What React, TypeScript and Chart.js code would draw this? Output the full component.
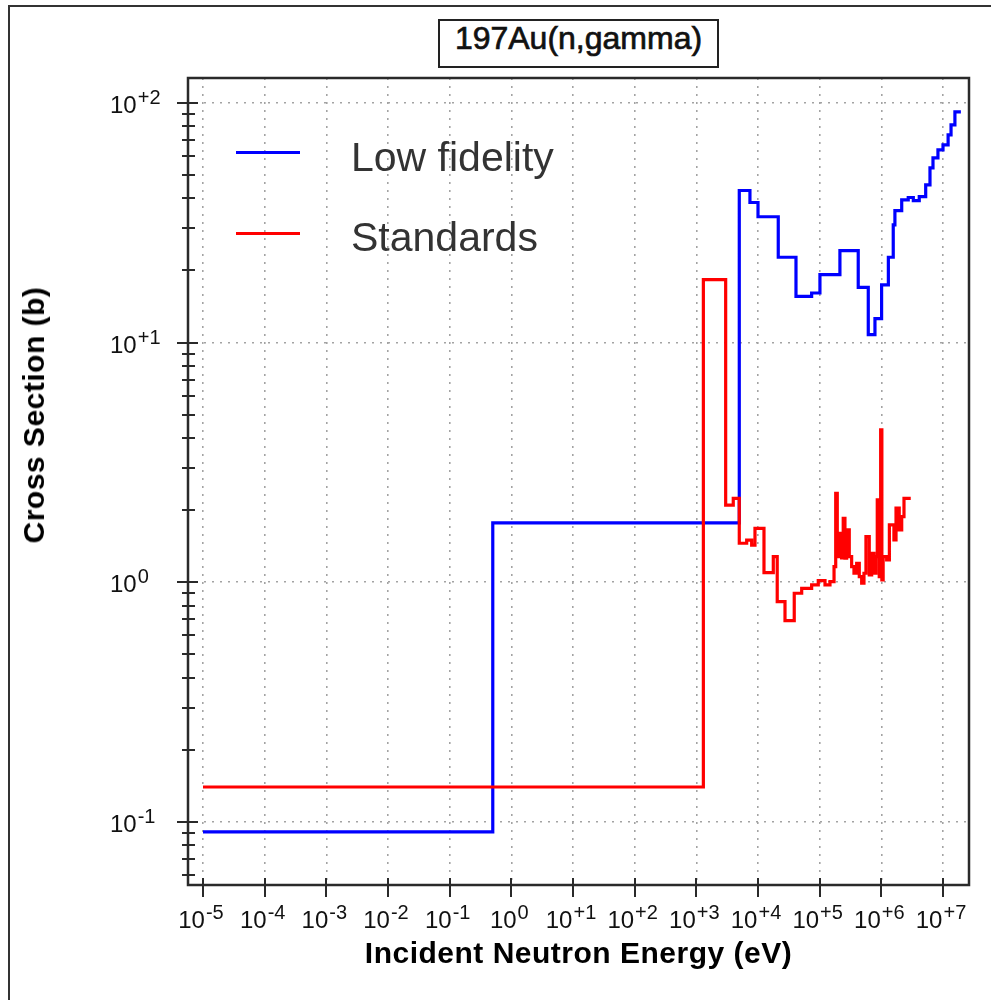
import React, { useEffect, useRef } from 'react';
import { Chart, registerables } from 'chart.js';

Chart.register(...registerables);

// ---------- data ----------
const chartTitle = '197Au(n,gamma)';
const xAxisTitle = 'Incident Neutron Energy (eV)';
const yAxisTitle = 'Cross Section (b)';
const seriesNames = ['Low fidelity', 'Standards'];

// Low fidelity (histogram: value holds from energy[i] to energy[i+1])
const lowFidelityEnergy = [
  1e-5, 0.5, 4970, 7400, 1.0e4, 2.13e4, 4.13e4, 7.41e4, 1.01e5, 2.13e5,
  4.22e5, 6.14e5, 7.88e5, 1.01e6, 1.3e6, 1.56e6, 1.66e6, 2.14e6, 2.73e6, 3.3e6,
  4.12e6, 5.24e6, 6.15e6, 6.88e6, 8.28e6, 1.0e7, 1.21e7, 1.35e7, 1.56e7, 1.95e7,
];
const lowFidelityXS = [
  0.091, 1.77, 43.1, 38.4, 33.5, 22.7, 15.6, 16.1, 19.2, 24.2,
  17.0, 10.8, 12.6, 17.4, 22.7, 31.0, 35.5, 39.4, 40.3, 39.1,
  40.6, 45.5, 53.6, 59.0, 63.7, 66.8, 73.5, 81.0, 91.7, 91.7,
];

// Standards
const standardsEnergy = [
  1e-5, 1300, 2990, 3970, 4970, 6550, 7890, 8930, 1.25e4, 1.77e4,
  2.05e4, 2.74e4, 3.87e4, 5.11e4, 7.41e4, 9.49e4, 1.22e5, 1.47e5, 1.71e5, 1.82e5,
  1.93e5, 2.13e5, 2.27e5, 2.41e5, 2.57e5, 2.74e5, 3.02e5, 3.3e5, 3.6e5, 3.98e5,
  4.39e5, 4.8e5, 5.23e5, 5.63e5, 6.37e5, 6.97e5, 7.59e5, 8.18e5, 8.59e5, 9.25e5,
  9.75e5, 1.02e6, 1.07e6, 1.22e6, 1.35e6, 1.6e6, 1.73e6, 1.95e6, 2.14e6, 2.33e6,
  3.0e6,
];
const standardsXS = [
  0.14, 18.3, 2.1, 2.24, 1.455, 1.5, 1.43, 1.68, 1.097, 1.279,
  0.83, 0.692, 0.9, 0.944, 0.975, 1.016, 0.975, 1.006, 1.162, 2.35,
  1.279, 1.6, 1.263, 1.85, 1.262, 1.653, 1.279, 1.162, 1.091, 1.2,
  1.056, 0.991, 1.091, 1.55, 1.073, 1.322, 1.091, 1.279, 2.21, 1.056,
  4.32, 1.023, 1.279, 1.24, 1.735, 1.502, 2.04, 1.653, 1.879, 2.24,
  2.24,
];

// Tick values and labels (decades)
const xTickValues = [1e-5, 1e-4, 1e-3, 1e-2, 1e-1, 1, 1e1, 1e2, 1e3, 1e4, 1e5, 1e6, 1e7];
const xTickExponents = ['-5', '-4', '-3', '-2', '-1', '0', '+1', '+2', '+3', '+4', '+5', '+6', '+7'];
const yTickValues = [1e-1, 1, 1e1, 1e2];
const yTickExponents = ['-1', '0', '+1', '+2'];
const yMinorMultipliers = [2, 3, 4, 5, 6, 7, 8, 9];

// ---------- styles / ranges ----------
const X_MIN = 5.71e-6;
const X_MAX = 2.64e7;
const Y_MIN = 0.0546;
const Y_MAX = 127;
const FONT = '"Liberation Sans", Arial, Helvetica, sans-serif';
const AXIS_COLOR = '#2a2a2a';
const GRID_COLOR = '#a3a3a3';

const isDecade = (v: number) => {
  const l = Math.log10(v);
  return Math.abs(l - Math.round(l)) < 1e-6;
};

function drawPower(ctx: CanvasRenderingContext2D, exp: string, x: number, baseline: number, align: 'center' | 'left') {
  const baseFont = `24px ${FONT}`;
  const supFont = `20px ${FONT}`;
  ctx.font = baseFont;
  const wb = ctx.measureText('10').width;
  ctx.font = supFont;
  const we = ctx.measureText(exp).width;
  const gap = 1;
  const total = wb + gap + we;
  const x0 = align === 'center' ? x - total / 2 : x;
  ctx.textAlign = 'left';
  ctx.textBaseline = 'alphabetic';
  ctx.font = baseFont;
  ctx.fillText('10', x0, baseline);
  ctx.font = supFont;
  ctx.fillText(exp, x0 + wb + gap, baseline - 9);
}

const decorPlugin = {
  id: 'decor',
  afterDraw(chart: any) {
    const { ctx, chartArea: a, scales } = chart;
    const xs = scales.x;
    const ys = scales.y;
    ctx.save();
    // frame
    ctx.strokeStyle = AXIS_COLOR;
    ctx.lineWidth = 2.5;
    ctx.strokeRect(a.left, a.top, a.right - a.left, a.bottom - a.top);
    // y ticks
    ctx.lineWidth = 2;
    for (const t of ys.ticks) {
      const py = Math.round(ys.getPixelForValue(t.value));
      const major = isDecade(t.value);
      ctx.beginPath();
      ctx.moveTo(a.left - (major ? 11 : 6), py);
      ctx.lineTo(a.left + (major ? 10 : 7), py);
      ctx.stroke();
    }
    // x ticks
    for (const t of xs.ticks) {
      const px = Math.round(xs.getPixelForValue(t.value));
      ctx.beginPath();
      ctx.moveTo(px, a.bottom - 7);
      ctx.lineTo(px, a.bottom + 12);
      ctx.stroke();
    }
    // labels
    ctx.fillStyle = '#111';
    xTickValues.forEach((v, i) => {
      const px = xs.getPixelForValue(v);
      drawPower(ctx, xTickExponents[i], px - 2, a.bottom + 43, 'center');
    });
    yTickValues.forEach((v, i) => {
      const py = ys.getPixelForValue(v);
      drawPower(ctx, yTickExponents[i], a.left - 78, py + 10, 'left');
    });
    ctx.restore();
  },
};

export default function App() {
  const canvasRef = useRef<HTMLCanvasElement>(null);

  useEffect(() => {
    const canvas = canvasRef.current;
    if (!canvas) return;
    const chart = new Chart(canvas, {
      type: 'scatter',
      data: {
        datasets: [
          {
            label: seriesNames[0],
            data: lowFidelityEnergy.map((e, i) => ({ x: e, y: lowFidelityXS[i] })),
            showLine: true,
            stepped: 'before',
            borderColor: '#0000ff',
            backgroundColor: '#0000ff',
            borderWidth: 3.2,
            pointRadius: 0,
            borderJoinStyle: 'miter',
            order: 1,
          },
          {
            label: seriesNames[1],
            data: standardsEnergy.map((e, i) => ({ x: e, y: standardsXS[i] })),
            showLine: true,
            stepped: 'before',
            borderColor: '#ff0000',
            backgroundColor: '#ff0000',
            borderWidth: 3.2,
            pointRadius: 0,
            borderJoinStyle: 'miter',
            order: 0,
          },
        ],
      },
      options: {
        responsive: false,
        animation: false,
        devicePixelRatio: 1,
        layout: { padding: { top: 78, right: 22, left: 0, bottom: 0 } },
        plugins: {
          legend: { display: false },
          tooltip: { enabled: false },
          title: { display: false },
        },
        scales: {
          x: {
            type: 'logarithmic',
            min: X_MIN,
            max: X_MAX,
            afterBuildTicks: (scale: any) => {
              scale.ticks = xTickValues.map((v) => ({ value: v, major: true }));
            },
            afterFit: (scale: any) => {
              scale.height = 115;
            },
            ticks: { display: false, autoSkip: false },
            grid: { color: GRID_COLOR, lineWidth: 1.6, drawTicks: false },
            border: { display: false, dash: [2, 6] },
          },
          y: {
            type: 'logarithmic',
            min: Y_MIN,
            max: Y_MAX,
            afterBuildTicks: (scale: any) => {
              const ticks: any[] = [];
              for (let k = -2; k <= 2; k++) {
                const d = Math.pow(10, k);
                [1, ...yMinorMultipliers].forEach((m) => {
                  const v = m * d;
                  if (v >= Y_MIN && v <= Y_MAX) ticks.push({ value: v, major: m === 1 });
                });
              }
              scale.ticks = ticks;
            },
            afterFit: (scale: any) => {
              scale.width = 188;
            },
            ticks: { display: false, autoSkip: false },
            grid: {
              color: (c: any) => (c.tick && isDecade(c.tick.value) ? GRID_COLOR : 'rgba(0,0,0,0)'),
              lineWidth: 1.6,
              drawTicks: false,
            },
            border: { display: false, dash: [2, 6] },
          },
        },
      },
      plugins: [decorPlugin],
    } as any);
    return () => chart.destroy();
  }, []);

  const legendText: React.CSSProperties = {
    position: 'absolute',
    left: 351,
    fontFamily: FONT,
    fontSize: 41,
    lineHeight: '41px',
    color: '#333',
    whiteSpace: 'nowrap',
  };

  return (
    <div style={{ position: 'absolute', left: 0, top: 0, width: 991, height: 1000, overflow: 'hidden', background: '#fff' }}>
      <div
        style={{
          position: 'absolute',
          left: 8,
          top: 5,
          right: -10,
          bottom: -10,
          borderLeft: '2px solid #333',
          borderTop: '2px solid #333',
        }}
      />
      <canvas
        ref={canvasRef}
        width={991}
        height={1000}
        style={{ position: 'absolute', left: 0, top: 0, width: 991, height: 1000 }}
      />
      {/* title box */}
      <div
        style={{
          position: 'absolute',
          left: 438,
          top: 19,
          width: 281,
          height: 49,
          boxSizing: 'border-box',
          border: '2px solid #222',
          background: '#fff',
          textAlign: 'center',
          fontFamily: FONT,
          fontSize: 32,
          lineHeight: '34px',
          color: '#111',
          WebkitTextStroke: '0.7px #111',
          whiteSpace: 'nowrap',
        }}
      >
        {chartTitle}
      </div>
      {/* legend */}
      <div style={{ position: 'absolute', left: 236, top: 151, width: 64, height: 3, background: '#0000ff' }} />
      <div style={{ ...legendText, top: 137 }}>{seriesNames[0]}</div>
      <div style={{ position: 'absolute', left: 236, top: 232, width: 64, height: 3, background: '#ff0000' }} />
      <div style={{ ...legendText, top: 217 }}>{seriesNames[1]}</div>
      {/* axis titles */}
      <div
        style={{
          position: 'absolute',
          left: 188,
          width: 781,
          top: 938,
          textAlign: 'center',
          fontFamily: FONT,
          fontWeight: 'bold',
          fontSize: 30,
          lineHeight: '30px',
          letterSpacing: '0.5px',
          color: '#000',
          whiteSpace: 'nowrap',
        }}
      >
        {xAxisTitle}
      </div>
      <div
        style={{
          position: 'absolute',
          left: 34,
          top: 415,
          transform: 'translate(-50%, -50%) rotate(-90deg)',
          fontFamily: FONT,
          fontWeight: 'bold',
          fontSize: 30,
          lineHeight: '30px',
          letterSpacing: '0.5px',
          color: '#000',
          whiteSpace: 'nowrap',
        }}
      >
        {yAxisTitle}
      </div>
    </div>
  );
}
